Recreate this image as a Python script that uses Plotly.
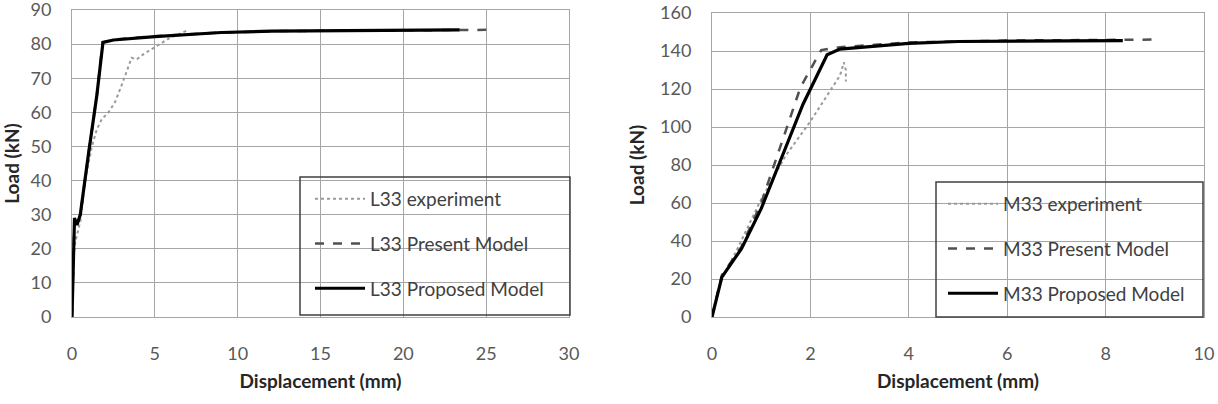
import plotly.graph_objects as go

# Left chart: L33
l_exp_x = [0, 0.05, 0.1, 0.2, 0.3, 0.5, 0.8, 1.2, 1.5, 1.8, 2.2, 2.6, 3.0, 3.4, 3.6, 3.9, 4.3, 4.8, 5.3, 5.9, 6.5, 7.0]
l_exp_y = [0, 12, 18, 22, 24, 28, 40, 50, 55, 58, 60, 63, 68, 73, 76, 75.5, 77, 78.5, 80, 81.8, 83, 84.1]
l_pre_x = [0, 0.1, 0.15, 0.3, 0.5, 1.0, 1.5, 1.85, 2.5, 5.0, 9.0, 12.0, 18.0, 25.4]
l_pre_y = [0, 22, 29, 27, 30, 48, 65, 80.5, 81.3, 82.3, 83.4, 83.8, 84.0, 84.2]
l_pro_x = [0, 0.1, 0.15, 0.3, 0.5, 1.0, 1.5, 1.87, 2.5, 5.0, 9.0, 12.0, 18.0, 23.4]
l_pro_y = [0, 22, 29, 27, 30, 48, 65, 80.5, 81.2, 82.2, 83.4, 83.8, 84.0, 84.2]

# Right chart: M33
m_exp_x = [0, 0.1, 0.2, 0.5, 1.0, 1.5, 2.0, 2.3, 2.6, 2.68, 2.72, 2.72]
m_exp_y = [0, 12, 20, 35, 62, 85, 103, 115, 127, 134, 130, 124]
m_pre_x = [0, 0.2, 0.6, 1.0, 1.8, 2.22, 2.6, 4.0, 6.0, 9.0]
m_pre_y = [0, 22, 37, 60, 121, 140.5, 142, 144.5, 145.5, 146]
m_pro_x = [0, 0.2, 0.6, 1.0, 1.85, 2.34, 2.6, 4.0, 5.0, 8.35]
m_pro_y = [0, 21, 36, 57, 112, 138, 141, 144, 145, 145.5]

FONT = "Lato"
GRID = "#a6a6a6"
TICK = "#595959"

fig = go.Figure()

def add_series(xs, ys, name, style, xa, ya, leg, grp):
    if style == "exp":
        line = dict(color="#9a9a9a", width=2, dash="dot")
    elif style == "pre":
        line = dict(color="#505050", width=2.5, dash="dash")
    else:
        line = dict(color="#000000", width=3.2)
    fig.add_trace(go.Scatter(x=xs, y=ys, mode="lines", name=name, line=line,
                             xaxis=xa, yaxis=ya, legend=leg, legendgroup=grp))

add_series(l_exp_x, l_exp_y, "L33 experiment", "exp", "x", "y", "legend", "a")
add_series(l_pre_x, l_pre_y, "L33 Present Model", "pre", "x", "y", "legend", "b")
add_series(l_pro_x, l_pro_y, "L33 Proposed Model", "pro", "x", "y", "legend", "c")
add_series(m_exp_x, m_exp_y, "M33 experiment", "exp", "x2", "y2", "legend2", "d")
add_series(m_pre_x, m_pre_y, "M33 Present Model", "pre", "x2", "y2", "legend2", "e")
add_series(m_pro_x, m_pro_y, "M33 Proposed Model", "pro", "x2", "y2", "legend2", "f")

W, H = 1218, 404
axis_common = dict(showgrid=True, gridcolor=GRID, gridwidth=1, showline=True, mirror=True,
                   linecolor=GRID, linewidth=1, zeroline=False, ticks="", automargin=False,
                   ticklabeloverflow="allow",
                   tickfont=dict(family=FONT, size=18, color=TICK))
title_font = dict(family=FONT, size=19, color="#262626", weight="bold")

leg_common = dict(bgcolor="rgba(0,0,0,0)", borderwidth=0,
                  font=dict(family=FONT, size=19, color="#404040"),
                  tracegroupgap=17, traceorder="grouped",
                  xanchor="left", yanchor="top", itemwidth=50)

# legend frames (pixel boxes converted to paper coords)
frames = [(300, 177, 570, 315), (936, 182, 1203, 317)]
shapes = [dict(type="rect", xref="paper", yref="paper",
               x0=a / W, x1=c / W, y0=1 - d / H, y1=1 - b / H,
               line=dict(color="#404040", width=1.5), fillcolor="rgba(0,0,0,0)", layer="above")
          for a, b, c, d in frames]

xa = dict(ticklabelstandoff=20, **axis_common)
ya = dict(ticklabelstandoff=16, **axis_common)

fig.update_layout(
    width=W, height=H, margin=dict(l=0, r=0, t=0, b=0),
    paper_bgcolor="white", plot_bgcolor="white", showlegend=True,
    xaxis=dict(domain=[72 / W, 569 / W], range=[0, 30], dtick=5, anchor="y",
               title=dict(text="Displacement (mm)", font=title_font, standoff=12), **xa),
    yaxis=dict(domain=[1 - 317 / H, 1 - 10 / H], range=[0, 90], dtick=10, anchor="x",
               title=dict(text="Load (kN)", font=title_font, standoff=10), **ya),
    xaxis2=dict(domain=[712 / W, 1204 / W], range=[0, 10], dtick=2, anchor="y2",
                title=dict(text="Displacement (mm)", font=title_font, standoff=12), **xa),
    yaxis2=dict(domain=[1 - 317 / H, 1 - 13 / H], range=[0, 160], dtick=20, anchor="x2",
                title=dict(text="Load (kN)", font=title_font, standoff=10), **ya),
    legend=dict(x=310 / W, y=1 - 180 / H, **leg_common),
    legend2=dict(x=943 / W, y=1 - 185 / H, **leg_common),
    shapes=shapes,
)

fig.write_html("out.html")
